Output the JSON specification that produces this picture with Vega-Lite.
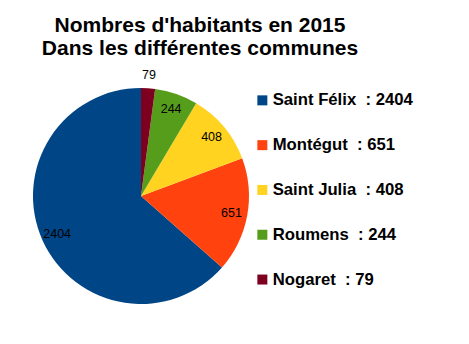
{
  "$schema": "https://vega.github.io/schema/vega-lite/v6.json",
  "autosize": "none",
  "width": 216,
  "height": 216,
  "padding": {"left": 33, "top": 88, "right": 220, "bottom": 40},
  "background": "white",
  "config": {"view": {"stroke": null}, "font": "Liberation Sans"},
  "title": {
    "text": ["Nombres d'habitants en 2015", "Dans les différentes communes"],
    "font": "Liberation Sans",
    "fontSize": 21,
    "fontWeight": "bold",
    "color": "black",
    "anchor": "middle",
    "frame": "group",
    "dx": 59,
    "offset": 10,
    "lineHeight": 23
  },
  "data": {
    "values": [
      {"commune": "Saint Félix", "habitants": 2404},
      {"commune": "Montégut", "habitants": 651},
      {"commune": "Saint Julia", "habitants": 408},
      {"commune": "Roumens", "habitants": 244},
      {"commune": "Nogaret", "habitants": 79}
    ]
  },
  "transform": [
    {"calculate": "datum.commune + '\u00a0 : ' + datum.habitants", "as": "libelle"}
  ],
  "encoding": {
    "theta": {"field": "habitants", "type": "quantitative", "stack": true},
    "order": {"field": "habitants", "sort": "ascending"}
  },
  "layer": [
    {
      "mark": {"type": "arc", "outerRadius": 108},
      "encoding": {
        "color": {
          "field": "libelle",
          "type": "nominal",
          "scale": {
            "domain": ["Saint Félix\u00a0 : 2404", "Montégut\u00a0 : 651", "Saint Julia\u00a0 : 408", "Roumens\u00a0 : 244", "Nogaret\u00a0 : 79"],
            "range": ["#004586", "#ff420e", "#ffd320", "#579d1c", "#7e0021"]
          },
          "legend": {
            "title": null,
            "orient": "none",
            "legendX": 221,
            "legendY": 4,
            "symbolType": "square",
            "symbolSize": 100,
            "symbolStrokeWidth": 0,
            "labelFont": "Liberation Sans",
            "labelFontSize": 16.7,
            "labelFontWeight": "bold",
            "labelColor": "black",
            "labelLimit": 300,
            "labelOffset": 2,
            "rowPadding": 26.8
          }
        }
      }
    },
    {
      "mark": {"type": "text", "radius": 92, "fontSize": 12.5, "font": "Liberation Sans", "color": "black"},
      "encoding": {
        "text": {"condition": {"test": "datum.habitants < 100", "value": ""}, "field": "habitants", "type": "quantitative"}
      }
    },
    {
      "mark": {"type": "text", "radius": 121, "fontSize": 12.5, "font": "Liberation Sans", "color": "black"},
      "encoding": {
        "text": {"condition": {"test": "datum.habitants >= 100", "value": ""}, "field": "habitants", "type": "quantitative"}
      }
    }
  ]
}
